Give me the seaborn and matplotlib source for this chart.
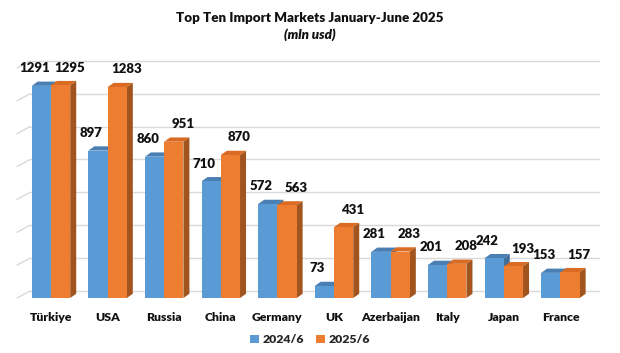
import pandas as pd
import numpy as np
import seaborn as sns
import matplotlib.pyplot as plt
from matplotlib.patches import Polygon

# data (mln usd)
countries = ['Türkiye', 'USA', 'Russia', 'China', 'Germany', 'UK',
             'Azerbaijan', 'Italy', 'Japan', 'France']
y2024 = [1291, 897, 860, 710, 572, 73, 281, 201, 242, 153]
y2025 = [1295, 1283, 951, 870, 563, 431, 283, 208, 193, 157]
periods = ['2024/6', '2025/6']

front = {'2024/6': '#5B9BD5', '2025/6': '#ED7D31'}
top = {'2024/6': '#4A7FB3', '2025/6': '#D96C22'}
side = {'2024/6': '#3F6E9C', '2025/6': '#A2541E'}

df = pd.DataFrame({
    'country': countries * 2,
    'value': y2024 + y2025,
    'period': [periods[0]] * len(countries) + [periods[1]] * len(countries),
})

sns.set_theme(style='white')
plt.rcParams['font.family'] = ['Lato', 'DejaVu Sans']
W = 'heavy'

fig = plt.figure(figsize=(6.2, 3.53), dpi=100)
ax = fig.add_axes([0.0256, 0.1278, 0.944, 0.717])

sns.barplot(data=df, x='country', y='value', hue='period', hue_order=periods,
            palette=front, width=0.68, saturation=1, ax=ax, legend=True,
            zorder=3, linewidth=0)

ax.set_xlim(-0.62, 9.72)
ax.set_ylim(-60, 1480)

# fake 3D depth (data units)
ddx, ddy = 0.106, 26
gdx, gdy = 0.23, 43

# back wall gridlines with a slanted left wall
for v in range(0, 1401, 200):
    ax.plot([-0.6, -0.6 + gdx], [v, v + gdy], color='#d9d9d9', lw=1, zorder=1)
    ax.plot([-0.6 + gdx, 9.68], [v + gdy, v + gdy], color='#d9d9d9', lw=1, zorder=1)

for k, (cont, per) in enumerate(zip(ax.containers, periods)):
    for bar in cont:
        x0 = bar.get_x()
        w = bar.get_width()
        h = bar.get_height()
        z = 3 + k * 0.5
        bar.set_zorder(z + 0.1)
        ax.add_patch(Polygon([[x0, h], [x0 + ddx, h + ddy], [x0 + w + ddx, h + ddy], [x0 + w, h]],
                             closed=True, facecolor=top[per], edgecolor='none', zorder=z))
        ax.add_patch(Polygon([[x0 + w, 0], [x0 + w + ddx, ddy], [x0 + w + ddx, h + ddy], [x0 + w, h]],
                             closed=True, facecolor=side[per], edgecolor='none', zorder=z))
        cx = x0 + w / 2 + (-0.12 if k == 0 else 0.16)
        ax.text(cx, h + ddy + 45, f'{int(h)}', ha='center', va='bottom',
                fontsize=9.5, fontweight=W, color='#111111', zorder=6)

sns.despine(ax=ax, left=True, bottom=True)
ax.set_yticks([])
ax.set_xlabel('')
ax.set_ylabel('')
ax.tick_params(axis='x', length=0, pad=3)
for lab in ax.get_xticklabels():
    lab.set_fontweight(W)
    lab.set_fontsize(8.8)
    lab.set_color('#111111')

handles, labels = ax.get_legend_handles_labels()
ax.legend(handles, labels, loc='center', bbox_to_anchor=(0.5, 0.037),
          bbox_transform=fig.transFigure, ncol=2, frameon=False, handlelength=0.7,
          handleheight=0.7, handletextpad=0.3, columnspacing=1.0,
          prop={'weight': W, 'size': 8.8})

fig.text(0.5, 0.949, 'Top Ten Import Markets January-June 2025', ha='center', va='center',
         fontsize=9.6, fontweight=W, color='#111111')
fig.text(0.5, 0.901, '(mln usd)', ha='center', va='center', fontsize=9.6,
         fontweight=W, fontstyle='italic', color='#111111')

fig.savefig('out.png', dpi=100, facecolor='white')
plt.close(fig)
